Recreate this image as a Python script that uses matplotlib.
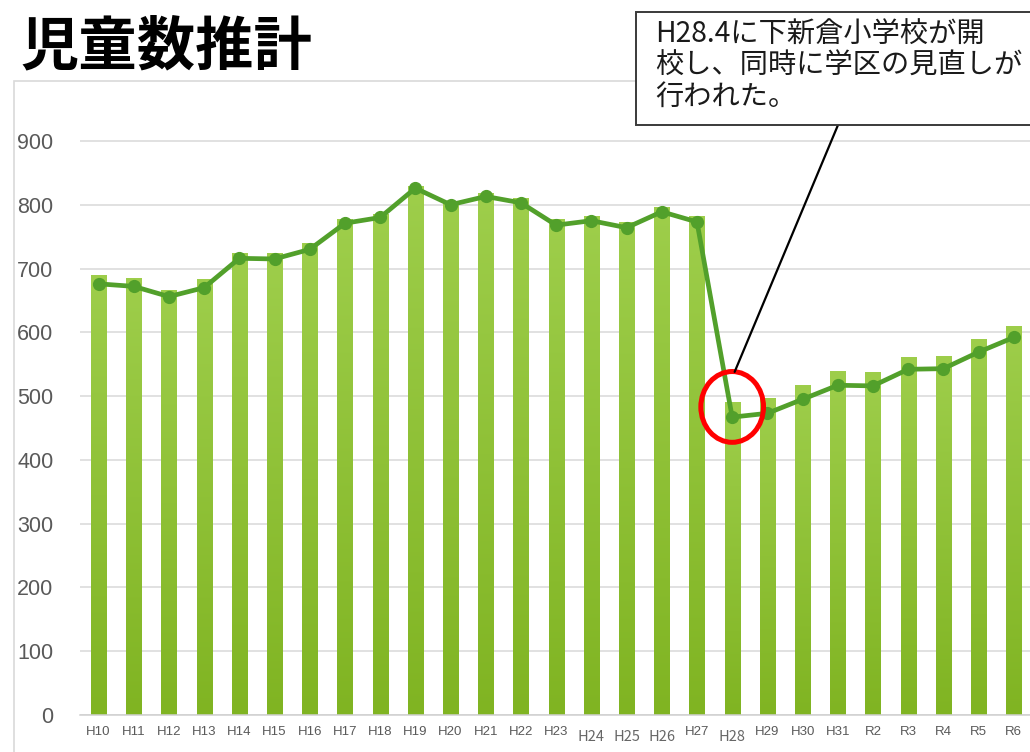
import numpy as np
import matplotlib
matplotlib.use("Agg")
import matplotlib.pyplot as plt
from matplotlib.patches import Rectangle, Ellipse
from matplotlib.transforms import ScaledTranslation
from matplotlib.colors import LinearSegmentedColormap

plt.rcParams['font.family'] = ['Noto Sans CJK JP', 'DejaVu Sans']

# ---- data
years = ["H10", "H11", "H12", "H13", "H14", "H15", "H16", "H17", "H18", "H19",
         "H20", "H21", "H22", "H23", "H24", "H25", "H26", "H27", "H28", "H29",
         "H30", "H31", "R2", "R3", "R4", "R5", "R6"]
bar_values = [690, 685, 666, 683, 725, 725, 740, 777, 786, 830,
              804, 818, 810, 777, 783, 773, 797, 782, 490, 497,
              517, 539, 538, 562, 563, 589, 610]
line_values = [676, 672, 656, 670, 716, 715, 730, 771, 780, 826,
               800, 813, 803, 768, 775, 764, 789, 773, 467, 473,
               495, 517, 516, 542, 543, 569, 592]
yticks = [0, 100, 200, 300, 400, 500, 600, 700, 800, 900]
odd_labels = ["H24", "H25", "H26", "H28"]

title = "児童数推計"
note_lines = ["H28.4に下新倉小学校が開", "校し、同時に学区の見直しが", "行われた。"]

W, H = 1030, 752
fig = plt.figure(figsize=(W / 100, H / 100), dpi=100)

# axes placed in pixel terms
ax_left, ax_right, ax_bottom, ax_top = 80, 1030, 715, 81
ax = fig.add_axes([ax_left / W, (H - ax_bottom) / H,
                   (ax_right - ax_left) / W, (ax_bottom - ax_top) / H])

x = np.arange(len(years))
bars = ax.bar(x, bar_values, width=0.43, color='#8FC13A', zorder=2)

# vertical gradient inside each bar
cmap = LinearSegmentedColormap.from_list("g", ["#80B422", "#9ECE4B"])
grad = np.linspace(0, 1, 256).reshape(-1, 1)
for b in bars:
    im = ax.imshow(grad, cmap=cmap, aspect='auto', origin='lower',
                   extent=(b.get_x(), b.get_x() + b.get_width(), 0, b.get_height()),
                   zorder=2.1)
    im.set_clip_path(b)

ax.plot(x, line_values, color='#52A02B', lw=3.4, marker='o', markersize=8.5,
        markerfacecolor='#52A02B', markeredgecolor='#52A02B', zorder=4)

ax.set_xlim(-0.526, 26.46)
ax.set_ylim(0, 994)
ax.set_yticks(yticks)
ax.set_yticklabels([str(v) for v in yticks], fontsize=15.5, color='#595959',
                   family=['Liberation Sans'])
ax.set_xticks(x)
ax.set_xticklabels(years, fontsize=9.5, color='#595959', family=['Liberation Sans'])
ax.tick_params(axis='both', length=0)
ax.tick_params(axis='y', pad=19)
ax.tick_params(axis='x', pad=8)

# a few labels in the original sit lower and in another font
for lab in ax.get_xticklabels():
    if lab.get_text() in odd_labels:
        lab.set_fontsize(10.5)
        lab.set_color('#666666')
        lab.set_family(['Noto Sans CJK JP'])
        lab.set_transform(lab.get_transform() +
                          ScaledTranslation(0, -2.5 / 72, fig.dpi_scale_trans))

ax.yaxis.grid(True, color='#D9D9D9', lw=1.1, zorder=0)
ax.set_axisbelow(True)
for s in ['top', 'right', 'left']:
    ax.spines[s].set_visible(False)
ax.spines['bottom'].set_color('#D0D0D0')
ax.spines['bottom'].set_linewidth(1.1)

# chart area outline
fig.patches.append(Rectangle((14 / W, -0.05), 1.0, (H - 81) / H + 0.05,
                             transform=fig.transFigure, fill=False,
                             edgecolor='#D9D9D9', lw=1.2, zorder=0))

# title
fig.text(20 / W, 1 - 47 / H, title, fontsize=42, fontweight='bold',
         va='center', ha='left', color='black')

# red circle around the H28 drop
i28 = years.index("H28")
ax.add_patch(Ellipse((i28, 483), 1.78, 111, fill=False, edgecolor='#FF0000',
                     lw=3.6, zorder=6, clip_on=False))

# callout box
fig.patches.append(Rectangle((636 / W, 1 - 125 / H), 0.5, 113 / H,
                             transform=fig.transFigure, facecolor='white',
                             edgecolor='#3A3A3A', lw=1.4, zorder=5))
for k, t in enumerate(note_lines):
    fig.text(655 / W, 1 - (35 + 31 * k) / H, t, fontsize=20.3, color='#1A1A1A',
             va='center', ha='left', zorder=6)

ax.annotate("", xy=(i28 + 0.07, 538), xycoords='data',
            xytext=(838, H - 125), textcoords='figure pixels',
            arrowprops=dict(arrowstyle='-', color='black', lw=1.6,
                            shrinkA=0, shrinkB=0), zorder=6)

fig.savefig("out.png", dpi=100)
